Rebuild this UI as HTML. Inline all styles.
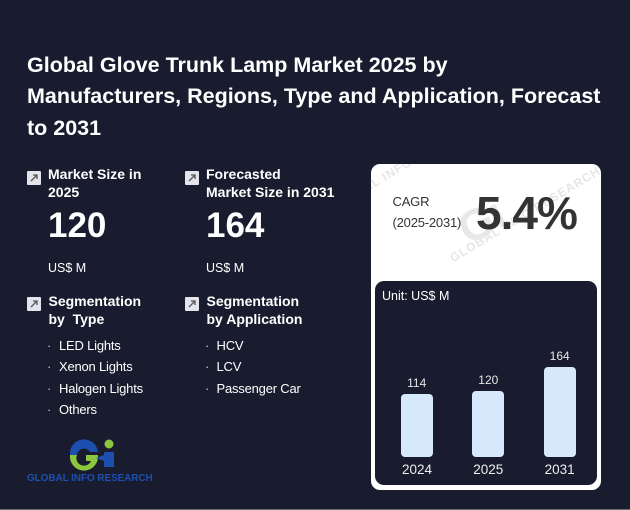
<!DOCTYPE html>
<html>
<head>
<meta charset="utf-8">
<style>
*{margin:0;padding:0;box-sizing:border-box;}
html,body{width:630px;height:510px;overflow:hidden;background:#191c2e;}
body{position:relative;font-family:"Liberation Sans",Arial,sans-serif;color:#fff;}
.a{position:absolute;white-space:nowrap;}
.title{left:27px;top:49.5px;font-size:21.5px;line-height:31.5px;font-weight:bold;color:#fff;}
.hd{font-size:14px;line-height:18px;font-weight:bold;color:#fff;}
.big{font-size:35px;line-height:40px;font-weight:bold;color:#fff;}
.unit{font-size:12.5px;line-height:16px;color:#fff;}
.li{font-size:13px;line-height:21.5px;color:#fff;letter-spacing:-0.2px;}
.dot{font-size:13px;line-height:21.5px;color:#ccc;}
.icon{position:absolute;width:14px;height:14px;background:#e4e4ec;border-radius:1px;}
.card{position:absolute;left:371px;top:164px;width:230px;height:326px;background:#fff;border-radius:9px;overflow:hidden;}
.inner{position:absolute;left:375px;top:281px;width:222px;height:204px;background:#191c2e;border-radius:9px;}
.bar{position:absolute;width:32px;background:#d6e8fb;border-radius:4px;}
.val{font-size:12px;line-height:14px;color:#e6e6e6;width:40px;text-align:center;}
.yr{font-size:13.5px;line-height:16px;color:#eee;width:50px;text-align:center;}
</style>
</head>
<body>

<div class="a title">Global Glove Trunk Lamp Market 2025 by<br>Manufacturers, Regions, Type and Application, Forecast<br>to 2031</div>

<!-- icons -->
<div class="icon" style="left:27px;top:171px;"><svg width="14" height="14"><path d="M4 10 L10 4 M6 4 H10 V8" stroke="#555" stroke-width="1.3" fill="none"/></svg></div>
<div class="icon" style="left:185px;top:171px;"><svg width="14" height="14"><path d="M4 10 L10 4 M6 4 H10 V8" stroke="#555" stroke-width="1.3" fill="none"/></svg></div>
<div class="icon" style="left:27px;top:297px;"><svg width="14" height="14"><path d="M4 10 L10 4 M6 4 H10 V8" stroke="#555" stroke-width="1.3" fill="none"/></svg></div>
<div class="icon" style="left:185px;top:297px;"><svg width="14" height="14"><path d="M4 10 L10 4 M6 4 H10 V8" stroke="#555" stroke-width="1.3" fill="none"/></svg></div>

<div class="a hd" style="left:48px;top:165.2px;">Market Size in<br>2025</div>
<div class="a big" style="left:48px;top:205.9px;">120</div>
<div class="a unit" style="left:48px;top:259.7px;">US$ M</div>

<div class="a hd" style="left:206px;top:165.2px;">Forecasted<br>Market Size in 2031</div>
<div class="a big" style="left:206px;top:205.9px;">164</div>
<div class="a unit" style="left:206px;top:259.7px;">US$ M</div>

<div class="a hd" style="left:48.5px;top:291.8px;">Segmentation<br>by&nbsp; Type</div>
<div class="a hd" style="left:206.5px;top:291.8px;">Segmentation<br>by Application</div>

<div class="a dot" style="left:47px;top:334.5px;">·<br>·<br>·<br>·</div>
<div class="a li" style="left:59px;top:334.75px;">LED Lights<br>Xenon Lights<br>Halogen Lights<br>Others</div>
<div class="a dot" style="left:205px;top:334.5px;">·<br>·<br>·</div>
<div class="a li" style="left:216.5px;top:334.75px;">HCV<br>LCV<br>Passenger Car</div>

<!-- logo -->
<svg class="a" style="left:60px;top:432px;" width="64" height="40" viewBox="0 0 64 40">
  <path d="M10 23 A14 14 0 0 1 38 20 L30 20 A7 7 0 0 0 17 23 Z" fill="#1d4fb0"/>
  <path d="M10 23 A14 14 0 0 0 38 26 L38 23 L26 23 L26 29 L31 29 A7 7 0 0 1 17 23 Z" fill="#8cc63f"/>
  <circle cx="49" cy="12" r="4.5" fill="#8cc63f"/>
  <path d="M44 20 H54 V35 H44 V29 L36 26 L44 23 Z" fill="#1d4fb0"/>
</svg>
<div class="a" style="left:27px;top:473px;font-size:10px;line-height:12px;font-weight:bold;color:#1d4fb0;letter-spacing:-0.1px;">GLOBAL INFO RESEARCH</div>

<!-- white card -->
<div class="card">
  <div class="a" style="left:88px;top:36px;font-size:44px;line-height:44px;font-weight:bold;color:#e8e8e8;transform:rotate(-30deg);">Gi</div>
  <div class="a" style="left:80px;top:48px;font-size:12px;line-height:14px;font-weight:bold;color:#e6e6e6;letter-spacing:1px;transform:rotate(-31deg);transform-origin:left center;top:88px;">GLOBAL INFO RESEARCH</div>
  <div class="a" style="left:-40px;top:38px;font-size:12px;line-height:14px;font-weight:bold;color:#e6e6e6;letter-spacing:1px;transform:rotate(-31deg);transform-origin:left center;">GLOBAL INFO RESEARCH</div>
</div>
<div class="a" style="left:392.5px;top:190.6px;font-size:13px;line-height:21.7px;color:#333;letter-spacing:-0.2px;">CAGR<br>(2025-2031)</div>
<div class="a" style="left:476px;top:188px;font-size:46px;line-height:50px;font-weight:bold;color:#333;letter-spacing:-1px;">5.4%</div>

<div class="inner"></div>
<div class="a unit" style="left:382px;top:287.7px;">Unit: US$ M</div>

<div class="bar" style="left:401px;top:394.3px;height:63px;"></div>
<div class="bar" style="left:472.3px;top:391px;height:66.3px;"></div>
<div class="bar" style="left:543.7px;top:367px;height:90.3px;"></div>

<div class="a val" style="left:396.7px;top:376.1px;">114</div>
<div class="a val" style="left:468.3px;top:373.1px;">120</div>
<div class="a val" style="left:539.7px;top:349.1px;">164</div>

<div class="a yr" style="left:392px;top:462.3px;">2024</div>
<div class="a yr" style="left:463.3px;top:462.3px;">2025</div>
<div class="a yr" style="left:534.7px;top:462.3px;">2031</div>

<div class="a" style="left:0;top:509px;width:630px;height:1px;background:#6a6b78;"></div>
</body>
</html>
